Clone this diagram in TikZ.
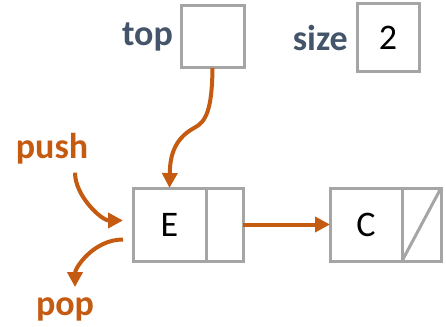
\documentclass[tikz,border=0pt]{standalone}
\usepackage{fontspec}
\setmainfont{Carlito}
\usepackage{tikz}
\usetikzlibrary{positioning, arrows.meta}

\definecolor{linkorange}{HTML}{C55A11}
\definecolor{labelslate}{HTML}{44546A}
\definecolor{boxgray}{HTML}{A5A5A5}

\begin{document}
\begin{tikzpicture}[
    x=1pt, y=1pt,
    cell/.style={rectangle, draw=boxgray, line width=3pt, outer sep=0pt, inner sep=0pt, font=\fontsize{36}{40}\selectfont},
    datacell/.style={cell, minimum width=73pt, minimum height=73pt},
    ptrcell/.style={cell, minimum width=37pt, minimum height=73pt},
    fieldlabel/.style={inner sep=0pt, text=labelslate, font=\fontsize{36}{40}\selectfont\bfseries},
    oplabel/.style={inner sep=0pt, text=linkorange, font=\fontsize{36}{40}\selectfont\bfseries},
    link/.style={draw=linkorange, line width=4pt, -{Triangle[length=15pt, width=15pt]}}
]
\useasboundingbox (0,0) rectangle (446,-326);

% Fields of the stack
\node[cell, minimum width=63pt, minimum height=62pt] (topbox) at (212.5,-37) {};
\node[fieldlabel, left=8pt of topbox] (toplabel) {top};
\node[cell, minimum width=62pt, minimum height=68pt] (sizebox) at (388,-38) {2};
\node[fieldlabel, left=9pt of sizebox] (sizelabel) {size};

% Linked nodes
\node[datacell] (edata) at (169.5,-224.5) {E};
\node[ptrcell, right=0pt of edata] (eptr) {};
\node[datacell, minimum width=72pt, right=87pt of eptr] (cdata) {C};
\node[ptrcell, minimum width=39pt, right=0pt of cdata] (cptr) {};
\draw[boxgray, line width=3pt] (cptr.south west) -- (cptr.north east);

% Operations
\node[oplabel] (pushlabel) at (52,-149) {push};
\node[oplabel] (poplabel) at (65,-309) {pop};

% Connectors
\draw[link] (topbox.south) .. controls (212,-110) and (206,-122) .. (194,-128)
    .. controls (172,-140) and (170,-160) .. (edata.north);
\draw[link] (eptr.east) -- (cdata.west);
\draw[link, shorten <=8pt, shorten >=10pt] ([xshift=23pt]pushlabel.south) to[out=-90, in=180] ([yshift=4pt]edata.west);
\draw[link, shorten >=10pt] ([xshift=-10pt, yshift=-15pt]edata.west) to[out=180, in=90] ([xshift=10pt]poplabel.north);

\end{tikzpicture}
\end{document}
